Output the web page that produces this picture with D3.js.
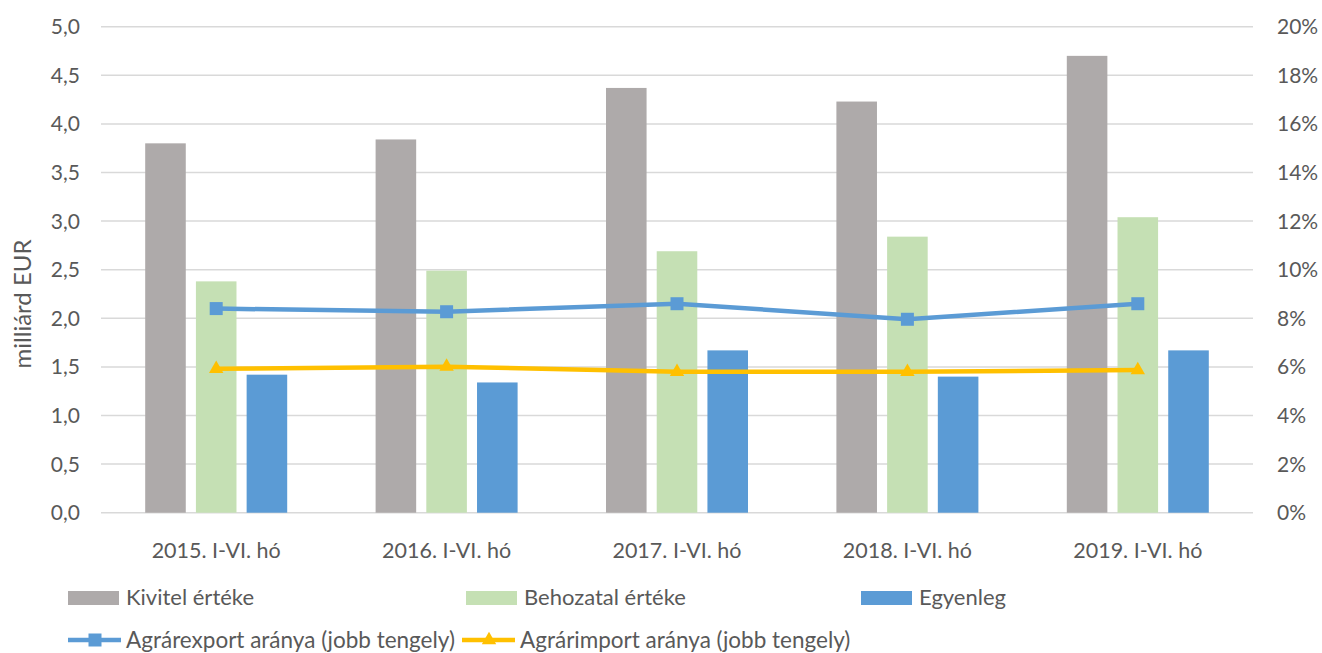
<html>
  <script src="https://d3js.org/d3.v7.min.js"></script>
  <style>
    body { margin: 0; background: #fff; }
    text { font-family: Lato, "Open Sans", sans-serif; fill: #595959; }
  </style>
  <body>
    <script>
      // data
      let categories = ["2015. I-VI. hó", "2016. I-VI. hó", "2017. I-VI. hó", "2018. I-VI. hó", "2019. I-VI. hó"];
      let kivitel = [3.80, 3.84, 4.37, 4.23, 4.70];
      let behozatal = [2.38, 2.49, 2.69, 2.84, 3.04];
      let egyenleg = [1.42, 1.34, 1.67, 1.40, 1.67];
      let exportShare = [8.40, 8.27, 8.60, 7.96, 8.60];   // % right axis
      let importShare = [5.92, 6.01, 5.80, 5.80, 5.87];   // % right axis
      let leftTicks = [0, 0.5, 1, 1.5, 2, 2.5, 3, 3.5, 4, 4.5, 5];
      let rightTicks = [0, 2, 4, 6, 8, 10, 12, 14, 16, 18, 20];

      let barSeries = [
        {name: "Kivitel értéke", values: kivitel, color: "#AEAAAA"},
        {name: "Behozatal értéke", values: behozatal, color: "#C5E0B4"},
        {name: "Egyenleg", values: egyenleg, color: "#5B9BD5"}
      ];
      let lineSeries = [
        {name: "Agrárexport aránya (jobb tengely)", values: exportShare, color: "#5B9BD5", marker: "square"},
        {name: "Agrárimport aránya (jobb tengely)", values: importShare, color: "#FFC000", marker: "triangle"}
      ];

      let width = 1322, height = 653;
      let plotLeft = 101, plotRight = 1253, plotTop = 26.7, plotBottom = 512.7;

      let svg = d3.select("body").append("svg")
                  .attr("width", width)
                  .attr("height", height);

      let x = d3.scaleBand().domain(categories).range([plotLeft, plotRight]);
      let xSub = d3.scaleBand().domain(barSeries.map(s => s.name)).range([0, 142]).paddingInner(0.2);
      let yL = d3.scaleLinear().domain([0, 5]).range([plotBottom, plotTop]);
      let yR = d3.scaleLinear().domain([0, 20]).range([plotBottom, plotTop]);

      // gridlines
      svg.append("g").selectAll("line").data(leftTicks).join("line")
         .attr("x1", plotLeft).attr("x2", plotRight)
         .attr("y1", d => yL(d)).attr("y2", d => yL(d))
         .attr("stroke", "#D9D9D9").attr("stroke-width", 1.5);

      // left axis labels
      svg.append("g").selectAll("text").data(leftTicks).join("text")
         .attr("x", 80).attr("y", d => yL(d))
         .attr("dy", "0.36em")
         .attr("text-anchor", "end")
         .style("font-size", "21px")
         .text(d => d3.format(".1f")(d).replace(".", ","));

      // right axis labels
      svg.append("g").selectAll("text").data(rightTicks).join("text")
         .attr("x", 1277).attr("y", d => yR(d))
         .attr("dy", "0.36em")
         .style("font-size", "21px")
         .text(d => d + "%");

      // axis title
      svg.append("text")
         .attr("transform", "translate(31,304) rotate(-90)")
         .attr("text-anchor", "middle")
         .style("font-size", "24px")
         .text("milliárd EUR");

      // bars
      barSeries.forEach(s => {
        svg.append("g").selectAll("rect").data(s.values).join("rect")
           .attr("x", (d, i) => x(categories[i]) + x.bandwidth() / 2 - 71 + xSub(s.name))
           .attr("width", xSub.bandwidth())
           .attr("y", d => yL(d))
           .attr("height", d => yL(0) - yL(d))
           .attr("fill", s.color);
      });

      // category labels
      svg.append("g").selectAll("text").data(categories).join("text")
         .attr("x", d => x(d) + x.bandwidth() / 2)
         .attr("y", 558)
         .attr("text-anchor", "middle")
         .style("font-size", "21.5px")
         .text(d => d);

      let tri = d3.symbol().type(d3.symbolTriangle).size(90);

      function drawMarker(g, type, color, cx, cy) {
        if (type === "square") {
          g.append("rect").attr("x", cx - 6.5).attr("y", cy - 6.5)
           .attr("width", 13).attr("height", 13).attr("fill", color);
        } else {
          g.append("path").attr("d", tri)
           .attr("transform", `translate(${cx},${cy})`).attr("fill", color);
        }
      }

      // lines
      lineSeries.forEach(s => {
        let line = d3.line()
                     .x((d, i) => x(categories[i]) + x.bandwidth() / 2)
                     .y(d => yR(d));
        svg.append("path").datum(s.values)
           .attr("d", line)
           .attr("fill", "none")
           .attr("stroke", s.color)
           .attr("stroke-width", 4.5)
           .attr("stroke-linejoin", "round");
        let g = svg.append("g");
        s.values.forEach((v, i) => drawMarker(g, s.marker, s.color, x(categories[i]) + x.bandwidth() / 2, yR(v)));
      });

      // legend
      let legBars = [68, 466, 861];
      barSeries.forEach((s, i) => {
        svg.append("rect").attr("x", legBars[i]).attr("y", 591)
           .attr("width", 51).attr("height", 14).attr("fill", s.color);
        svg.append("text").attr("x", legBars[i] + 58).attr("y", 605)
           .style("font-size", "22px").text(s.name);
      });
      let legLines = [68, 462];
      lineSeries.forEach((s, i) => {
        let lx = legLines[i];
        svg.append("line").attr("x1", lx).attr("x2", lx + 53)
           .attr("y1", 640).attr("y2", 640)
           .attr("stroke", s.color).attr("stroke-width", 4.5);
        drawMarker(svg, s.marker, s.color, lx + 27, 640);
        svg.append("text").attr("x", lx + 58).attr("y", 648)
           .style("font-size", "22.5px").text(s.name);
      });
    </script>
  </body>
</html>
